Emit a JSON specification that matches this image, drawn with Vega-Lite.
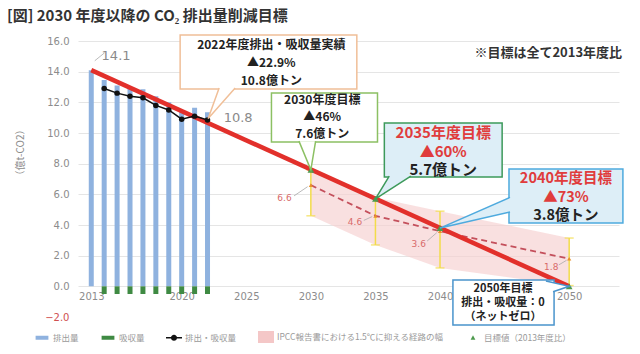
{
  "$schema": "https://vega.github.io/schema/vega-lite/v6.json",
  "width": 541,
  "height": 276,
  "autosize": {"type": "none"},
  "padding": {"left": 78, "top": 41, "right": 21, "bottom": 37},
  "background": "white",
  "config": {"view": {"stroke": null}, "font": "Noto Sans CJK JP"},
  "title": {"text": "[図] 2030 年度以降の CO₂ 排出量削減目標", "anchor": "start", "frame": "group", "dx": -71, "offset": 3, "fontSize": 15, "font": "Noto Sans CJK JP", "fontWeight": "bold", "color": "#333333", "baseline": "middle"},
  "datasets": {
    "gross": [{"year": 2013, "value": 14.1}, {"year": 2014, "value": 13.45}, {"year": 2015, "value": 13.1}, {"year": 2016, "value": 12.95}, {"year": 2017, "value": 12.85}, {"year": 2018, "value": 12.4}, {"year": 2019, "value": 12.0}, {"year": 2020, "value": 11.45}, {"year": 2021, "value": 11.65}, {"year": 2022, "value": 11.35}],
    "absorb": [{"year": 2014, "value": -0.5}, {"year": 2015, "value": -0.5}, {"year": 2016, "value": -0.5}, {"year": 2017, "value": -0.5}, {"year": 2018, "value": -0.5}, {"year": 2019, "value": -0.5}, {"year": 2020, "value": -0.5}, {"year": 2021, "value": -0.5}, {"year": 2022, "value": -0.5}],
    "net": [{"year": 2014, "value": 12.9}, {"year": 2015, "value": 12.6}, {"year": 2016, "value": 12.4}, {"year": 2017, "value": 12.3}, {"year": 2018, "value": 11.8}, {"year": 2019, "value": 11.5}, {"year": 2020, "value": 10.9}, {"year": 2021, "value": 11.1}, {"year": 2022, "value": 10.85}],
    "pathway": [{"year": 2013, "value": 14.1}, {"year": 2050, "value": 0}],
    "targets": [{"year": 2030, "value": 7.6}, {"year": 2035, "value": 5.7}, {"year": 2040, "value": 3.8}, {"year": 2050, "value": 0}],
    "ipcc": [{"year": 2030, "value": 6.6, "lo": 4.6, "hi": 7.6}, {"year": 2035, "value": 4.6, "lo": 2.7, "hi": 5.8}, {"year": 2040, "value": 3.6, "lo": 1.2, "hi": 4.9}, {"year": 2050, "value": 1.8, "lo": 0.05, "hi": 3.15}],
    "boxes": [
      {"id": "c2022", "year": 2019.88, "year2": 2033.56, "value": 16.39, "value2": 12.87},
      {"id": "c2030", "year": 2026.95, "year2": 2035.16, "value": 12.61, "value2": 9.41},
      {"id": "c2035", "year": 2035.69, "year2": 2044.81, "value": 10.65, "value2": 7.13},
      {"id": "c2040", "year": 2045.34, "year2": 2054.16, "value": 7.65, "value2": 4.13},
      {"id": "c2050", "year": 2041.0, "year2": 2048.83, "value": 0.41, "value2": -2.52}
    ],
    "pointers": [
      {"id": "c2022", "ord": 1, "year": 2022.9, "value": 12.93}, {"id": "c2022", "ord": 2, "year": 2022.05, "value": 10.95}, {"id": "c2022", "ord": 3, "year": 2024.14, "value": 12.93},
      {"id": "c2030", "ord": 1, "year": 2029.08, "value": 9.47}, {"id": "c2030", "ord": 2, "year": 2030, "value": 7.6}, {"id": "c2030", "ord": 3, "year": 2030.37, "value": 9.47},
      {"id": "c2035", "ord": 1, "year": 2036.07, "value": 7.19}, {"id": "c2035", "ord": 2, "year": 2035, "value": 5.7}, {"id": "c2035", "ord": 3, "year": 2037.74, "value": 7.19},
      {"id": "c2040", "ord": 1, "year": 2045.42, "value": 5.8}, {"id": "c2040", "ord": 2, "year": 2040, "value": 3.8}, {"id": "c2040", "ord": 3, "year": 2045.42, "value": 4.85},
      {"id": "c2050", "ord": 1, "year": 2048.2, "value": 0.35}, {"id": "c2050", "ord": 2, "year": 2050, "value": 0}, {"id": "c2050", "ord": 3, "year": 2048.75, "value": -0.35}
    ],
    "notes": [
      {"id": "c2022", "tone": "plain", "year": 2026.94, "value": 15.74, "text": "2022年度排出・吸収量実績"},
      {"id": "c2022", "tone": "plain", "year": 2026.94, "value": 14.58, "text": "▲22.9%"},
      {"id": "c2022", "tone": "plain", "year": 2026.94, "value": 13.42, "text": "10.8億トン"},
      {"id": "c2030", "tone": "plain", "year": 2030.88, "value": 12.12, "text": "2030年度目標"},
      {"id": "c2030", "tone": "plain", "year": 2030.88, "value": 11.03, "text": "▲46%"},
      {"id": "c2030", "tone": "plain", "year": 2030.88, "value": 9.94, "text": "7.6億トン"},
      {"id": "c2035", "tone": "accent", "year": 2040.25, "value": 10.0, "text": "2035年度目標"},
      {"id": "c2035", "tone": "accent", "year": 2040.25, "value": 8.76, "text": "▲60%"},
      {"id": "c2035", "tone": "plain", "year": 2040.25, "value": 7.59, "text": "5.7億トン"},
      {"id": "c2040", "tone": "accent", "year": 2049.75, "value": 6.97, "text": "2040年度目標"},
      {"id": "c2040", "tone": "accent", "year": 2049.75, "value": 5.78, "text": "▲73%"},
      {"id": "c2040", "tone": "plain", "year": 2049.75, "value": 4.59, "text": "3.8億トン"},
      {"id": "c2050", "tone": "plain", "year": 2044.87, "value": -0.2, "text": "2050年目標"},
      {"id": "c2050", "tone": "plain", "year": 2044.87, "value": -1.11, "text": "排出・吸収量：0"},
      {"id": "c2050", "tone": "plain", "year": 2044.87, "value": -2.02, "text": "（ネットゼロ）"}
    ],
    "graylabels": [{"year": 2014.92, "value": 15.02, "text": "14.1"}, {"year": 2024.37, "value": 10.96, "text": "10.8"}],
    "redlabels": [{"year": 2027.96, "value": 5.74, "text": "6.6"}, {"year": 2033.42, "value": 4.21, "text": "4.6"}, {"year": 2038.35, "value": 2.76, "text": "3.6"}, {"year": 2048.61, "value": 1.28, "text": "1.8"}],
    "leaders": [
      {"year": 2013.27, "value": 14.71, "year2": 2014.03, "value2": 15.23},
      {"year": 2028.7, "value": 5.9, "year2": 2029.75, "value2": 6.5},
      {"year": 2034.1, "value": 4.3, "year2": 2034.75, "value2": 4.55},
      {"year": 2039.0, "value": 2.95, "year2": 2039.75, "value2": 3.5},
      {"year": 2049.2, "value": 1.4, "year2": 2049.8, "value2": 1.7}
    ],
    "note": [{"year": 2048.38, "value": 15.23, "text": "※目標は全て2013年度比"}],
    "legend": [
      {"series": "排出量", "year": 1990, "value": 0},
      {"series": "吸収量", "year": 1990, "value": 0},
      {"series": "排出・吸収量", "year": 1990, "value": 0},
      {"series": "IPCC報告書における1.5℃に抑える経路の幅", "year": 1990, "value": 0},
      {"series": "目標値（2013年度比）", "year": 1990, "value": 0}
    ]
  },
  "encoding": {
    "x": {"field": "year", "type": "quantitative", "scale": {"domain": [2012.36, 2053.47], "nice": false, "zero": false},
      "axis": {"values": [2013, 2020, 2025, 2030, 2035, 2040, 2050], "format": "d", "title": null, "domain": false, "ticks": false, "grid": false, "offset": -31, "labelPadding": 5, "labelFont": "DejaVu Sans", "labelFontSize": 10, "labelColor": "#8c8c8c", "labelFlush": false}},
    "y": {"field": "value", "type": "quantitative", "scale": {"domain": [-2, 16], "nice": false, "zero": false},
      "axis": {"values": [-2, 0, 2, 4, 6, 8, 10, 12, 14, 16], "format": ".1f", "labelFont": "DejaVu Sans", "labelFontSize": 10,
        "labelColor": {"condition": {"test": "datum.value < 0", "value": "#d05050"}, "value": "#8c8c8c"},
        "gridColor": {"condition": {"test": "datum.value < 0", "value": "transparent"}, "value": "#e5e5e5"},
        "domain": false, "ticks": false, "labelPadding": 9,
        "title": "（億t-CO2）", "titleFont": "Noto Sans CJK JP", "titleFontSize": 10, "titleFontWeight": "normal", "titleColor": "#8c8c8c", "titleX": -53, "titleY": 111}}
  },
  "layer": [
    {"data": {"name": "ipcc"}, "mark": {"type": "area", "color": "#f6cfcf", "opacity": 0.65}, "encoding": {"y": {"field": "hi", "type": "quantitative"}, "y2": {"field": "lo"}}},
    {"data": {"name": "gross"}, "mark": {"type": "bar", "size": 5, "color": "#8fb2df"}},
    {"data": {"name": "absorb"}, "mark": {"type": "bar", "size": 5, "color": "#3f8a43"}},
    {"data": {"name": "ipcc"}, "mark": {"type": "rule", "color": "#f2dc4a", "strokeWidth": 1.5}, "encoding": {"y": {"field": "hi", "type": "quantitative"}, "y2": {"field": "lo"}}},
    {"data": {"name": "ipcc"}, "mark": {"type": "tick", "orient": "horizontal", "color": "#f2dc4a", "size": 9, "thickness": 1.5}, "encoding": {"y": {"field": "hi", "type": "quantitative"}}},
    {"data": {"name": "ipcc"}, "mark": {"type": "tick", "orient": "horizontal", "color": "#f2dc4a", "size": 9, "thickness": 1.5}, "encoding": {"y": {"field": "lo", "type": "quantitative"}}},
    {"data": {"name": "ipcc"}, "mark": {"type": "line", "color": "#c4505c", "strokeWidth": 1.8, "strokeDash": [6, 4]}, "encoding": {}},
    {"data": {"name": "ipcc"}, "mark": {"type": "point", "shape": "triangle-up", "filled": true, "color": "#e8902a", "size": 18, "opacity": 1}},
    {"data": {"name": "pathway"}, "mark": {"type": "line", "color": "#e2302b", "strokeWidth": 4.5}, "encoding": {}},
    {"data": {"name": "net"}, "mark": {"type": "line", "color": "#111111", "strokeWidth": 1.5, "point": {"filled": true, "color": "#111111", "size": 30}}, "encoding": {}},
    {"data": {"name": "targets"}, "mark": {"type": "point", "shape": "triangle-up", "filled": true, "color": "#4e9a4e", "size": 45, "opacity": 1}},
    {"data": {"name": "leaders"}, "mark": {"type": "rule", "color": "#aaaaaa", "strokeWidth": 0.8}, "encoding": {"x2": {"field": "year2"}, "y2": {"field": "value2"}}},
    {"data": {"name": "graylabels"}, "mark": {"type": "text", "font": "DejaVu Sans", "fontSize": 13, "color": "#8a8a8a"}, "encoding": {"text": {"field": "text"}}},
    {"data": {"name": "redlabels"}, "mark": {"type": "text", "font": "DejaVu Sans", "fontSize": 9, "color": "#d86a6a"}, "encoding": {"text": {"field": "text"}}},
    {"data": {"name": "note"}, "mark": {"type": "text", "fontSize": 13, "fontWeight": "bold", "color": "#333333"}, "encoding": {"text": {"field": "text"}}},

    {"data": {"name": "boxes"}, "transform": [{"filter": "datum.id == 'c2022'"}], "mark": {"type": "rect", "fill": "#ffffff", "stroke": "#f0bf98", "strokeWidth": 1.5}, "encoding": {"x2": {"field": "year2"}, "y2": {"field": "value2"}}},
    {"data": {"name": "pointers"}, "transform": [{"filter": "datum.id == 'c2022'"}], "mark": {"type": "line", "fill": "#ffffff", "stroke": "#f0bf98", "strokeWidth": 1.5}, "encoding": {"order": {"field": "ord"}}},
    {"data": {"name": "boxes"}, "transform": [{"filter": "datum.id == 'c2030'"}], "mark": {"type": "rect", "fill": "#ffffff", "stroke": "#8cc063", "strokeWidth": 1.5}, "encoding": {"x2": {"field": "year2"}, "y2": {"field": "value2"}}},
    {"data": {"name": "pointers"}, "transform": [{"filter": "datum.id == 'c2030'"}], "mark": {"type": "line", "fill": "#ffffff", "stroke": "#8cc063", "strokeWidth": 1.5}, "encoding": {"order": {"field": "ord"}}},
    {"data": {"name": "boxes"}, "transform": [{"filter": "datum.id == 'c2035'"}], "mark": {"type": "rect", "fill": "#ddeef7", "stroke": "#3d9a5b", "strokeWidth": 1.5}, "encoding": {"x2": {"field": "year2"}, "y2": {"field": "value2"}}},
    {"data": {"name": "pointers"}, "transform": [{"filter": "datum.id == 'c2035'"}], "mark": {"type": "line", "fill": "#ddeef7", "stroke": "#3d9a5b", "strokeWidth": 1.5}, "encoding": {"order": {"field": "ord"}}},
    {"data": {"name": "boxes"}, "transform": [{"filter": "datum.id == 'c2040'"}], "mark": {"type": "rect", "fill": "#ddeef7", "stroke": "#4eaade", "strokeWidth": 1.5}, "encoding": {"x2": {"field": "year2"}, "y2": {"field": "value2"}}},
    {"data": {"name": "pointers"}, "transform": [{"filter": "datum.id == 'c2040'"}], "mark": {"type": "line", "fill": "#ddeef7", "stroke": "#4eaade", "strokeWidth": 1.5}, "encoding": {"order": {"field": "ord"}}},
    {"data": {"name": "boxes"}, "transform": [{"filter": "datum.id == 'c2050'"}], "mark": {"type": "rect", "fill": "#ffffff", "stroke": "#4a94cc", "strokeWidth": 1.5}, "encoding": {"x2": {"field": "year2"}, "y2": {"field": "value2"}}},
    {"data": {"name": "pointers"}, "transform": [{"filter": "datum.id == 'c2050'"}], "mark": {"type": "line", "fill": "#ffffff", "stroke": "#4a94cc", "strokeWidth": 1.5}, "encoding": {"order": {"field": "ord"}}},

    {"data": {"name": "notes"}, "transform": [{"filter": "datum.id == 'c2022' || datum.id == 'c2030'"}], "mark": {"type": "text", "fontSize": 12, "fontWeight": "bold", "color": "#222222"}, "encoding": {"text": {"field": "text"}}},
    {"data": {"name": "notes"}, "transform": [{"filter": "datum.id == 'c2035' && datum.tone == 'accent'"}], "mark": {"type": "text", "fontSize": 15, "fontWeight": "bold", "color": "#e03c3c"}, "encoding": {"text": {"field": "text"}}},
    {"data": {"name": "notes"}, "transform": [{"filter": "datum.id == 'c2035' && datum.tone == 'plain'"}], "mark": {"type": "text", "fontSize": 15, "fontWeight": "bold", "color": "#222222"}, "encoding": {"text": {"field": "text"}}},
    {"data": {"name": "notes"}, "transform": [{"filter": "datum.id == 'c2040' && datum.tone == 'accent'"}], "mark": {"type": "text", "fontSize": 14.5, "fontWeight": "bold", "color": "#e03c3c"}, "encoding": {"text": {"field": "text"}}},
    {"data": {"name": "notes"}, "transform": [{"filter": "datum.id == 'c2040' && datum.tone == 'plain'"}], "mark": {"type": "text", "fontSize": 14.5, "fontWeight": "bold", "color": "#222222"}, "encoding": {"text": {"field": "text"}}},
    {"data": {"name": "notes"}, "transform": [{"filter": "datum.id == 'c2050'"}], "mark": {"type": "text", "fontSize": 11, "fontWeight": "bold", "color": "#222222"}, "encoding": {"text": {"field": "text"}}},

    {"data": {"name": "legend"}, "mark": {"type": "point", "filled": true, "clip": true, "opacity": 1},
      "encoding": {
        "color": {"field": "series", "type": "nominal",
          "scale": {"domain": ["排出量", "吸収量", "排出・吸収量", "IPCC報告書における1.5℃に抑える経路の幅", "目標値（2013年度比）"], "range": ["#8fb2df", "#3f8a43", "#111111", "#f4c7c7", "#4e9a4e"]},
          "legend": {"title": null, "orient": "none", "legendX": -44, "legendY": 288, "direction": "horizontal", "symbolSize": 256, "symbolStrokeWidth": 0, "symbolOpacity": 1, "labelFontSize": 8.5, "labelLimit": 400, "labelColor": "#9a9a9a", "labelFont": "Noto Sans CJK JP", "labelOffset": 3, "columnPadding": 21}},
        "shape": {"field": "series", "type": "nominal",
          "scale": {"domain": ["排出量", "吸収量", "排出・吸収量", "IPCC報告書における1.5℃に抑える経路の幅", "目標値（2013年度比）"],
            "range": ["M-0.8,-0.25H0.8V0.25H-0.8Z", "M-0.8,-0.25H0.8V0.25H-0.8Z", "M-1,-0.1H1V0.1H-1Z M0.38,0A0.38,0.38 0 1,1 -0.38,0A0.38,0.38 0 1,1 0.38,0Z", "M-1,-0.75H1V0.75H-1Z", "M0,-0.3L0.3,0.25L-0.3,0.25Z"]},
          "legend": {"title": null, "orient": "none", "legendX": -44, "legendY": 288, "direction": "horizontal", "symbolSize": 256, "symbolStrokeWidth": 0, "symbolOpacity": 1, "labelFontSize": 8.5, "labelLimit": 400, "labelColor": "#9a9a9a", "labelFont": "Noto Sans CJK JP", "labelOffset": 3, "columnPadding": 21}}
      }}
  ]
}
